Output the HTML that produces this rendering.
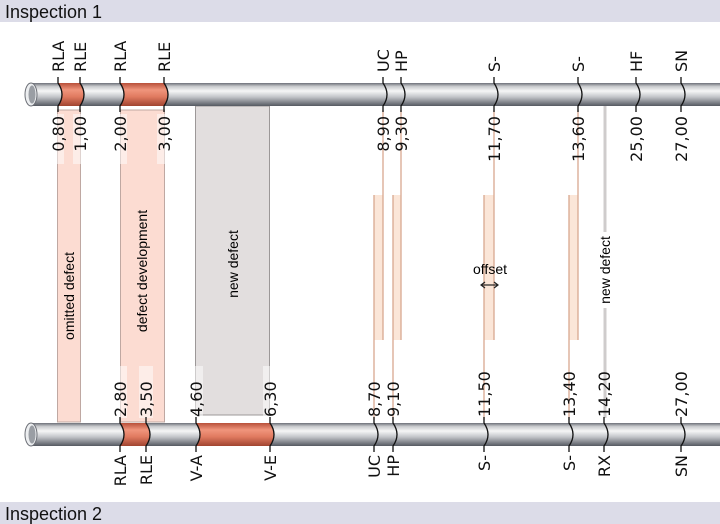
<!DOCTYPE html>
<html><head><meta charset="utf-8"><style>
html,body{margin:0;padding:0;background:#fff;}
svg{display:block;}
.l{font-family:"DejaVu Sans",sans-serif;font-size:16px;fill:#111;}
.b{font-family:"Liberation Sans",sans-serif;font-size:14px;fill:#000;}
</style></head><body>
<svg width="720" height="524" viewBox="0 0 720 524" xmlns="http://www.w3.org/2000/svg">
<defs>
<linearGradient id="pg" x1="0" y1="0" x2="0" y2="1">
<stop offset="0" stop-color="#6d7078"/><stop offset="0.15" stop-color="#c9cbce"/><stop offset="0.35" stop-color="#f6f6f6"/><stop offset="0.6" stop-color="#c4c6ca"/><stop offset="1" stop-color="#555961"/>
</linearGradient>
<linearGradient id="og" x1="0" y1="0" x2="0" y2="1">
<stop offset="0" stop-color="#b8503a"/><stop offset="0.3" stop-color="#f0957c"/><stop offset="0.6" stop-color="#e07a60"/><stop offset="1" stop-color="#a04430"/>
</linearGradient>
</defs>
<rect x="0" y="0" width="720" height="22" fill="#dcdce8"/>
<text x="5" y="18" font-family="Liberation Sans,sans-serif" font-size="18" fill="#111">Inspection 1</text>
<rect x="0" y="502" width="720" height="22" fill="#dcdce8"/>
<text x="5" y="520" font-family="Liberation Sans,sans-serif" font-size="18" fill="#111">Inspection 2</text>

<rect x="57.5" y="110" width="23" height="312" fill="#fcdcd2" stroke="#bfa8a2"/>
<rect x="120.5" y="110" width="44" height="312" fill="#fcdcd2" stroke="#bfa8a2"/>
<rect x="195.5" y="106" width="74" height="309" fill="#e2dede" stroke="#9c9898"/>
<g fill="#fbe6d8">
<rect x="374" y="195" width="9" height="145"/>
<rect x="393" y="195" width="8" height="145"/>
<rect x="484" y="195" width="10" height="145"/>
<rect x="569" y="195" width="9" height="145"/>
</g>
<g stroke="#d8a890" stroke-width="1.3">
<line x1="383" y1="110" x2="383" y2="340"/><line x1="374" y1="195" x2="374" y2="420"/>
<line x1="401" y1="110" x2="401" y2="340"/><line x1="393" y1="195" x2="393" y2="420"/>
<line x1="494" y1="110" x2="494" y2="340"/><line x1="484" y1="195" x2="484" y2="420"/>
<line x1="578" y1="110" x2="578" y2="340"/><line x1="569" y1="195" x2="569" y2="420"/>
</g>
<line x1="605" y1="106" x2="605" y2="418" stroke="#cfcccc" stroke-width="3"/>

<g fill="#fff" opacity="0.5">
<rect x="50" y="114" width="14" height="50"/><rect x="73" y="114" width="14" height="50"/>
<rect x="113" y="114" width="14" height="50"/><rect x="157" y="114" width="14" height="50"/>
<rect x="113" y="366" width="14" height="52"/><rect x="139" y="366" width="14" height="52"/>
<rect x="189" y="366" width="14" height="52"/><rect x="263" y="366" width="14" height="52"/>
</g>

<text class="b" transform="translate(74,296) rotate(-90)" text-anchor="middle">omitted defect</text>
<text class="b" transform="translate(147,271) rotate(-90)" text-anchor="middle">defect development</text>
<text class="b" transform="translate(238,264) rotate(-90)" text-anchor="middle">new defect</text>
<rect x="597" y="232" width="16" height="76" fill="#fff"/>
<text class="b" transform="translate(610,270) rotate(-90)" text-anchor="middle">new defect</text>
<text class="b" x="490" y="274" text-anchor="middle">offset</text>
<g stroke="#222" stroke-width="1.2" fill="none">
<line x1="482" y1="285" x2="497" y2="285"/>
<path d="M485 282 L481 285 L485 288 M494 282 L498 285 L494 288"/>
</g>

<rect x="31" y="83" width="689" height="23" fill="url(#pg)"/>
<path d="M58 83 Q66 94.5 58 106 L80 106 Q88 94.5 80 83Z" fill="url(#og)"/>
<path d="M120 83 Q128 94.5 120 106 L164 106 Q172 94.5 164 83Z" fill="url(#og)"/>
<ellipse cx="31" cy="94.5" rx="6" ry="11.5" fill="#eceef0" stroke="#6d7077"/>
<ellipse cx="32" cy="94.5" rx="3.5" ry="9" fill="#9a9ea4"/>

<rect x="31" y="423" width="689" height="23" fill="url(#pg)"/>
<path d="M120 423 Q128 434.5 120 446 L146 446 Q154 434.5 146 423Z" fill="url(#og)"/>
<path d="M196 423 Q204 434.5 196 446 L270 446 Q278 434.5 270 423Z" fill="url(#og)"/>
<ellipse cx="31" cy="434.5" rx="6" ry="11.5" fill="#eceef0" stroke="#6d7077"/>
<ellipse cx="32" cy="434.5" rx="3.5" ry="9" fill="#9a9ea4"/>

<g stroke="#111" stroke-width="1.3" fill="none">
<path d="M58 77V83Q66 94.5 58 106V112"/><path d="M80 77V83Q88 94.5 80 106V112"/>
<path d="M120 77V83Q128 94.5 120 106V112"/><path d="M164 77V83Q172 94.5 164 106V112"/>
<path d="M383 77V83Q391 94.5 383 106V112"/><path d="M401 77V83Q409 94.5 401 106V112"/>
<path d="M494 77V83Q502 94.5 494 106V112"/><path d="M578 77V83Q586 94.5 578 106V112"/>
<path d="M636 77V83Q644 94.5 636 106V112"/><path d="M681 77V83Q689 94.5 681 106V112"/>
</g>
<g class="l">
<text transform="translate(64,72) rotate(-90)">RLA</text>
<text transform="translate(86,72) rotate(-90)">RLE</text>
<text transform="translate(126,72) rotate(-90)">RLA</text>
<text transform="translate(170,72) rotate(-90)">RLE</text>
<text transform="translate(389,72) rotate(-90)">UC</text>
<text transform="translate(407,72) rotate(-90)">HP</text>
<text transform="translate(500,72) rotate(-90)">S-</text>
<text transform="translate(584,72) rotate(-90)">S-</text>
<text transform="translate(642,72) rotate(-90)">HF</text>
<text transform="translate(687,72) rotate(-90)">SN</text>
<text transform="translate(64,116) rotate(-90)" text-anchor="end">0,80</text>
<text transform="translate(86,116) rotate(-90)" text-anchor="end">1,00</text>
<text transform="translate(126,116) rotate(-90)" text-anchor="end">2,00</text>
<text transform="translate(170,116) rotate(-90)" text-anchor="end">3,00</text>
<text transform="translate(389,116) rotate(-90)" text-anchor="end">8,90</text>
<text transform="translate(407,116) rotate(-90)" text-anchor="end">9,30</text>
<text transform="translate(500,116) rotate(-90)" text-anchor="end">11,70</text>
<text transform="translate(584,116) rotate(-90)" text-anchor="end">13,60</text>
<text transform="translate(642,116) rotate(-90)" text-anchor="end">25,00</text>
<text transform="translate(687,116) rotate(-90)" text-anchor="end">27,00</text>
</g>

<g stroke="#111" stroke-width="1.3" fill="none">
<path d="M120 417V423Q128 434.5 120 446V452"/><path d="M146 417V423Q154 434.5 146 446V452"/>
<path d="M196 417V423Q204 434.5 196 446V452"/><path d="M270 417V423Q278 434.5 270 446V452"/>
<path d="M374 417V423Q382 434.5 374 446V452"/><path d="M393 417V423Q401 434.5 393 446V452"/>
<path d="M484 417V423Q492 434.5 484 446V452"/><path d="M569 417V423Q577 434.5 569 446V452"/>
<path d="M604 417V423Q612 434.5 604 446V452"/><path d="M681 417V423Q689 434.5 681 446V452"/>
</g>
<g class="l">
<text transform="translate(126,417) rotate(-90)">2,80</text>
<text transform="translate(152,417) rotate(-90)">3,50</text>
<text transform="translate(202,417) rotate(-90)">4,60</text>
<text transform="translate(276,417) rotate(-90)">6,30</text>
<text transform="translate(380,417) rotate(-90)">8,70</text>
<text transform="translate(399,417) rotate(-90)">9,10</text>
<text transform="translate(490,417) rotate(-90)">11,50</text>
<text transform="translate(575,417) rotate(-90)">13,40</text>
<text transform="translate(610,417) rotate(-90)">14,20</text>
<text transform="translate(687,417) rotate(-90)">27,00</text>
<text transform="translate(126,455) rotate(-90)" text-anchor="end">RLA</text>
<text transform="translate(152,455) rotate(-90)" text-anchor="end">RLE</text>
<text transform="translate(202,455) rotate(-90)" text-anchor="end">V-A</text>
<text transform="translate(276,455) rotate(-90)" text-anchor="end">V-E</text>
<text transform="translate(380,455) rotate(-90)" text-anchor="end">UC</text>
<text transform="translate(399,455) rotate(-90)" text-anchor="end">HP</text>
<text transform="translate(490,455) rotate(-90)" text-anchor="end">S-</text>
<text transform="translate(575,455) rotate(-90)" text-anchor="end">S-</text>
<text transform="translate(610,455) rotate(-90)" text-anchor="end">RX</text>
<text transform="translate(687,455) rotate(-90)" text-anchor="end">SN</text>
</g>
</svg>
</body></html>
